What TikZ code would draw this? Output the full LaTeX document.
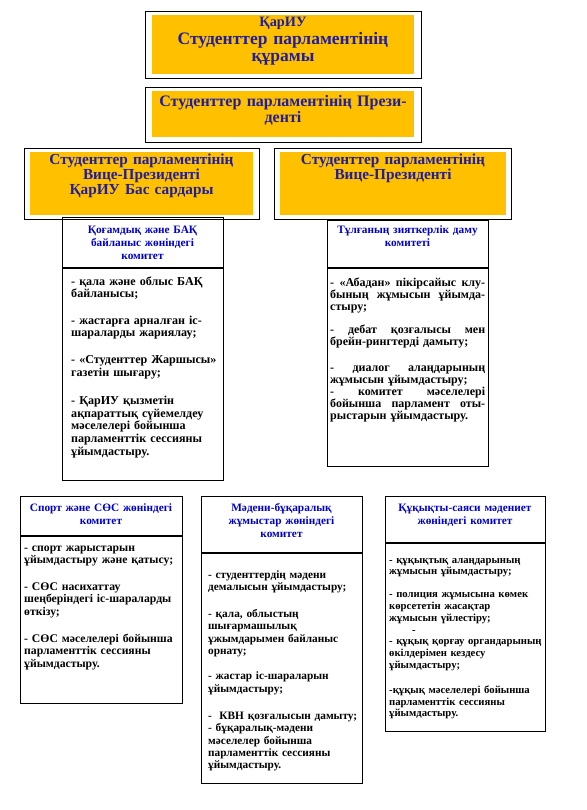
\documentclass[tikz,border=0pt]{standalone}
\usepackage{fontspec}
\setmainfont{Liberation Serif}
\definecolor{orng}{RGB}{255,192,0}
\definecolor{ttl}{RGB}{34,30,150}
\definecolor{hdr}{RGB}{0,0,205}
\newlength{\jw}
\setlength{\jw}{155pt}
\newcommand{\jl}[1]{\makebox[\jw][s]{#1}}
\begin{document}
\begin{tikzpicture}[x=1pt,y=-1pt,
  frame/.style={draw=black,line width=1.3pt,anchor=north west,inner sep=0pt},
  obox/.style={fill=orng,anchor=north west,inner sep=0pt},
  ttltext/.style={font=\fontsize{16}{16}\selectfont\bfseries,text=ttl,align=center,inner sep=0pt,anchor=base,text width=270pt},
  ttlsmall/.style={font=\fontsize{15.3}{15}\selectfont\bfseries,text=ttl,align=center,inner sep=0pt,anchor=base,text width=230pt},
  hdrtext/.style={font=\fontsize{11.3}{13}\selectfont\bfseries,text=hdr,align=center,inner sep=0pt,anchor=base,text width=160pt},
  bodytext/.style={align=left,inner sep=0pt,anchor=base west,text width=190pt}]
\useasboundingbox (0,0) rectangle (586,810);
\fill[white] (0,0) rectangle (586,810);

% title boxes
\node[frame,minimum width=276pt,minimum height=67pt] (t1f) at (145,11) {};
\node[obox,minimum width=262pt,minimum height=59pt] (t1o) at (152,15) {};
\node[ttltext,font=\fontsize{17.5}{17.5}\selectfont\bfseries] (t1) at (283,27) {{\fontsize{14.3}{14}\selectfont ҚарИУ}\\ Студенттер парламентінің\\ құрамы};

\node[frame,minimum width=276pt,minimum height=55pt] (t2f) at (145,87) {};
\node[obox,minimum width=262pt,minimum height=46pt] (t2o) at (152,91) {};
\node[ttltext] (t2) at (283,107) {Студенттер парламентінің Прези-\\ денті};

\node[frame,minimum width=235pt,minimum height=71pt] (t3f) at (24,148) {};
\node[obox,minimum width=223pt,minimum height=63pt] (t3o) at (30,152) {};
\node[ttlsmall] (t3) at (141.5,165) {Студенттер парламентінің\\ Вице-Президенті\\ ҚарИУ Бас сардары};

\node[frame,minimum width=237pt,minimum height=71pt] (t4f) at (274,148) {};
\node[obox,minimum width=226pt,minimum height=63pt] (t4o) at (280,152) {};
\node[ttlsmall] (t4) at (393,165) {Студенттер парламентінің\\ Вице-Президенті};

% committee boxes
\node[frame,minimum width=161pt,minimum height=263pt] (c1) at (62,217) {};
\draw[line width=1.3pt] (c1.west |- 0,268) -- (c1.east |- 0,268);
\node[hdrtext] (h1) at (142.5,233.5) {Қоғамдық және БАҚ\\ байланыс жөніндегі\\ комитет};
\node[bodytext,font=\fontsize{12.1}{12.6}\selectfont\bfseries] (b1) at (71,285) {- қала және облыс БАҚ\\ байланысы;\\[14pt]
- жастарға арналған іс-\\ шараларды жариялау;\\[14pt]
- «Студенттер Жаршысы»\\ газетін шығару;\\[16pt]
- ҚарИУ қызметін\\ ақпараттық сүйемелдеу\\ мәселелері бойынша\\ парламенттік сессияны\\ ұйымдастыру.};

\node[frame,minimum width=161pt,minimum height=246pt] (c2) at (327,220) {};
\draw[line width=1.3pt] (c2.west |- 0,268) -- (c2.east |- 0,268);
\node[hdrtext] (h2) at (407.5,233.5) {Тұлғаның зияткерлік даму\\ комитеті};
\node[bodytext,font=\fontsize{12}{12}\selectfont\bfseries] (b2) at (330,286) {\jl{-\hfill «Абадан»\hfill пікірсайыс\hfill клу-}\\ \jl{бының\hfill жұмысын\hfill ұйымда-}\\ стыру;\\[11pt]
\jl{-\hfill дебат\hfill қозғалысы\hfill мен}\\ брейн-рингтерді дамыту;\\[14pt]
\jl{-\hfill диалог\hfill алаңдарының}\\ жұмысын ұйымдастыру;\\ \jl{-\hfill комитет\hfill мәселелері}\\ \jl{бойынша\hfill парламент\hfill оты-}\\ рыстарын ұйымдастыру.};

\node[frame,minimum width=162pt,minimum height=207pt] (c3) at (20,496) {};
\draw[line width=1.3pt] (c3.west |- 0,536) -- (c3.east |- 0,536);
\node[hdrtext] (h3) at (101,511.5) {Спорт және СӨС жөніндегі\\ комитет};
\node[bodytext,font=\fontsize{11.7}{12.3}\selectfont\bfseries] (b3) at (24,551) {- спорт жарыстарын\\ ұйымдастыру және қатысу;\\[15pt]
- СӨС насихаттау\\ шеңберіндегі іс-шараларды\\ өткізу;\\[15pt]
- СӨС мәселелері бойынша\\ парламенттік сессияны\\ ұйымдастыру.};

\node[frame,minimum width=161pt,minimum height=287pt] (c4) at (201,496) {};
\draw[line width=1.3pt] (c4.west |- 0,553) -- (c4.east |- 0,553);
\node[hdrtext] (h4) at (281.5,511.5) {Мәдени-бұқаралық\\ жұмыстар жөніндегі\\ комитет};
\node[bodytext,font=\fontsize{11.3}{12.3}\selectfont\bfseries] (b4) at (208,578) {- студенттердің мәдени\\ демалысын ұйымдастыру;\\[15pt]
- қала, облыстың\\ шығармашылық\\ ұжымдарымен байланыс\\ орнату;\\[13pt]
- жастар іс-шараларын\\ ұйымдастыру;\\[15pt]
-\ \ КВН қозғалысын дамыту;\\ - бұқаралық-мәдени\\ мәселелер бойынша\\ парламенттік сессияны\\ ұйымдастыру.};

\node[frame,minimum width=160pt,minimum height=235pt] (c5) at (385,496) {};
\draw[line width=1.3pt] (c5.west |- 0,543) -- (c5.east |- 0,543);
\node[hdrtext] (h5) at (465,511.5) {Құқықты-саяси мәдениет\\ жөніндегі комитет};
\node[bodytext,font=\fontsize{10.7}{11.8}\selectfont\bfseries] (b5) at (389,563) {- құқықтық алаңдарының\\ жұмысын ұйымдастыру;\\[11pt]
- полиция жұмысына көмек\\ көрсететін жасақтар\\ жұмысын үйлестіру;\\ \hspace*{23pt}-\\ - құқық қорғау органдарының\\ өкілдерімен кездесу\\ ұйымдастыру;\\[13pt]
-құқық мәселелері бойынша\\ парламенттік сессияны\\ ұйымдастыру.};
\end{tikzpicture}
\end{document}
